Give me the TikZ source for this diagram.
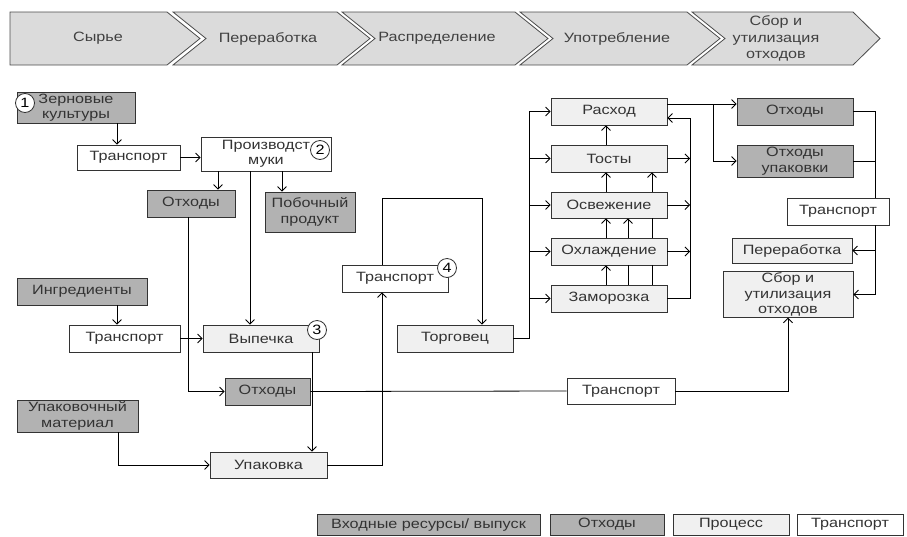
\documentclass[tikz,border=0pt]{standalone}
\usepackage{fontspec}
\setmainfont{Liberation Sans}[FakeStretch=1.2]
\usetikzlibrary{arrows.meta}

\tikzset{
  box/.style={draw=black!80, text=black!80, align=center, inner sep=1pt, font=\fontsize{13.5}{15.5}\selectfont},
  inbox/.style={box, fill=gray!60},
  procbox/.style={box, fill=gray!12},
  trbox/.style={box, fill=white},
  numcirc/.style={circle, draw=black!80, fill=white, minimum size=19, inner sep=0pt, font=\fontsize{13.5}{13.5}\selectfont},
  chevron/.style={draw=black!70, fill=gray!28},
  chevtext/.style={text=black!75, align=center, font=\fontsize{13.5}{16.5}\selectfont},
  arr/.style={-{Straight Barb[length=4.5pt,width=9pt]}},
}

\begin{document}
\begin{tikzpicture}[x=1pt,y=1pt,yscale=-1,xscale=1,line width=0.8pt]
\useasboundingbox (0,0) rectangle (907,536);
%Shape: Chevrons
\draw[chevron] (10,12) -- (167,12) -- (200,38.5) -- (167,65) -- (10,65) -- cycle;
\draw[chevron] (173,12) -- (337,12) -- (370,38.5) -- (337,65) -- (173,65) -- (206,38.5) -- cycle;
\draw[chevron] (342,12) -- (515,12) -- (548,38.5) -- (515,65) -- (342,65) -- (375,38.5) -- cycle;
\draw[chevron] (520,12) -- (687,12) -- (720,38.5) -- (687,65) -- (520,65) -- (553,38.5) -- cycle;
\draw[chevron] (692,12) -- (853,12) -- (880,38.5) -- (853,65) -- (692,65) -- (725,38.5) -- cycle;
% Text Node
\node[chevtext] (stage1) at (98,38.5) {Сырье};
\node[chevtext] (stage2) at (268,38.5) {Переработка};
\node[chevtext] (stage3) at (437,38.5) {Распределение};
\node[chevtext] (stage4) at (617,38.5) {Употребление};
\node[chevtext] (stage5) at (776,38.5) {Сбор и\\утилизация\\отходов};

%Boxes: flour and baking
\node[inbox, minimum width=118, minimum height=31] (zern) at (76,107.5) {Зерновые\\культуры};
\node[trbox, minimum width=103, minimum height=25] (tr1) at (128.5,157.5) {Транспорт};
\node[trbox, minimum width=130, minimum height=34] (proizv) at (266,154) {Производст\\муки};
\node[inbox, minimum width=88, minimum height=27] (otx1) at (191,203.5) {Отходы};
\node[inbox, minimum width=90, minimum height=40] (pob) at (310,212) {Побочный\\продукт};
\node[inbox, minimum width=130, minimum height=27] (ingr) at (82,291.5) {Ингредиенты};
\node[trbox, minimum width=111, minimum height=27] (tr2) at (124.5,338.5) {Транспорт};
\node[procbox, minimum width=116, minimum height=27] (vyp) at (261,338.5) {Выпечка};
\node[inbox, minimum width=85, minimum height=27] (otx3) at (267.5,391.5) {Отходы};
\node[inbox, minimum width=121, minimum height=32] (upmat) at (77.5,416) {Упаковочный\\материал};
\node[procbox, minimum width=117, minimum height=26] (upak) at (268.5,465) {Упаковка};
%Boxes: trade
\node[trbox, minimum width=106, minimum height=27] (tr4) at (395,278.5) {Транспорт};
\node[procbox, minimum width=116, minimum height=27] (torg) at (455,338.5) {Торговец};
%Boxes: consumption
\node[procbox, minimum width=116, minimum height=27] (rash) at (609,111.5) {Расход};
\node[procbox, minimum width=116, minimum height=27] (tost) at (609,158.5) {Тосты};
\node[procbox, minimum width=116, minimum height=26] (osv) at (609,205) {Освежение};
\node[procbox, minimum width=116, minimum height=27] (ohl) at (609,251.5) {Охлаждение};
\node[procbox, minimum width=116, minimum height=27] (zam) at (609,298.5) {Заморозка};
%Boxes: waste
\node[inbox, minimum width=116, minimum height=27] (otx2) at (795,111.5) {Отходы};
\node[inbox, minimum width=116, minimum height=32] (otxup) at (795,161) {Отходы\\упаковки};
\node[trbox, minimum width=102, minimum height=27] (tr3) at (838,211.5) {Транспорт};
\node[procbox, minimum width=120, minimum height=25] (perer) at (792,250.5) {Переработка};
\node[procbox, minimum width=130, minimum height=45] (sbor) at (788,294.5) {Сбор и\\утилизация\\отходов};
\node[trbox, minimum width=108, minimum height=26] (tr5) at (621,391) {Транспорт};

%Straight Lines
\draw[arr] (117,0 |- zern.south) -- (117,0 |- tr1.north);
\draw[arr] (tr1.east) -- (tr1.east -| proizv.west);
\draw[arr] (218,0 |- proizv.south) -- (218,0 |- otx1.north);
\draw[arr] (282,0 |- proizv.south) -- (282,0 |- pob.north);
\draw[arr] (250,0 |- proizv.south) -- (250,0 |- vyp.north);
\draw[arr] (188,0 |- otx1.south) |- (otx3.west);
\draw[arr] (117,0 |- ingr.south) -- (117,0 |- tr2.north);
\draw[arr] (tr2.east) -- (vyp.west);
\draw[arr] (312,0 |- vyp.south) -- (312,0 |- upak.north);
\draw[arr] (118,0 |- upmat.south) |- (upak.west);
\draw[arr] (upak.east) -| (382,0 |- tr4.south);
\draw[arr] (382,0 |- tr4.north) |- (482,198) -- (482,0 |- torg.north);
%Straight Lines: left bus
\draw (torg.east) -| (529,0 |- rash.west);
\draw[arr] (529,0 |- rash.west) -- (rash.west);
\draw[arr] (529,0 |- tost.west) -- (tost.west);
\draw[arr] (529,0 |- osv.west) -- (osv.west);
\draw[arr] (529,0 |- ohl.west) -- (ohl.west);
\draw[arr] (529,0 |- zam.west) -- (zam.west);
%Straight Lines: right bus
\draw[arr] (tost.east) -- (690,0 |- tost.east);
\draw[arr] (osv.east) -- (690,0 |- osv.east);
\draw[arr] (ohl.east) -- (690,0 |- ohl.east);
\draw[arr] (zam.east) -| (690,118) -- (rash.east |- 690,118);
%Straight Lines: upward
\draw[arr] (606,0 |- tost.north) -- (606,0 |- rash.south);
\draw[arr] (606,0 |- osv.north) -- (606,0 |- tost.south);
\draw[arr] (606,0 |- ohl.north) -- (606,0 |- osv.south);
\draw[arr] (606,0 |- zam.north) -- (606,0 |- ohl.south);
\draw (628,0 |- zam.north) -- (628,0 |- ohl.south);
\draw[arr] (628,0 |- ohl.north) -- (628,0 |- osv.south);
\draw (652,0 |- zam.north) -- (652,0 |- ohl.south);
\draw (652,0 |- ohl.north) -- (652,0 |- osv.south);
\draw[arr] (652,0 |- osv.north) -- (652,0 |- tost.south);
%Straight Lines: waste
\draw[arr] (rash.east |- 0,104) -- (otx2.west |- 0,104);
\draw[arr] (713,104) |- (otxup.west);
\draw (otx2.east) -| (875,0 |- tr3.north);
\draw (otxup.east) -- (875,0 |- otxup.east);
\draw[arr] (875,0 |- tr3.south) |- (perer.east);
\draw[arr] (875,0 |- perer.east) |- (sbor.east);
\draw (otx3.east) -- (tr5.west);
\draw[arr] (tr5.east) -| (sbor.south);

%Shape: Circles
\node[numcirc] (n1) at (25,103) {1};
\node[numcirc] (n2) at (320,150) {2};
\node[numcirc] (n3) at (317,330) {3};
\node[numcirc] (n4) at (447,268) {4};

%Legend
\node[inbox, minimum width=223, minimum height=21] (lg1) at (428.5,524.5) {Входные ресурсы/ выпуск};
\node[inbox, minimum width=114, minimum height=21] (lg2) at (607,524.5) {Отходы};
\node[procbox, minimum width=116, minimum height=21] (lg3) at (731,524.5) {Процесс};
\node[trbox, minimum width=106, minimum height=21] (lg4) at (850,524.5) {Транспорт};
\end{tikzpicture}
\end{document}
